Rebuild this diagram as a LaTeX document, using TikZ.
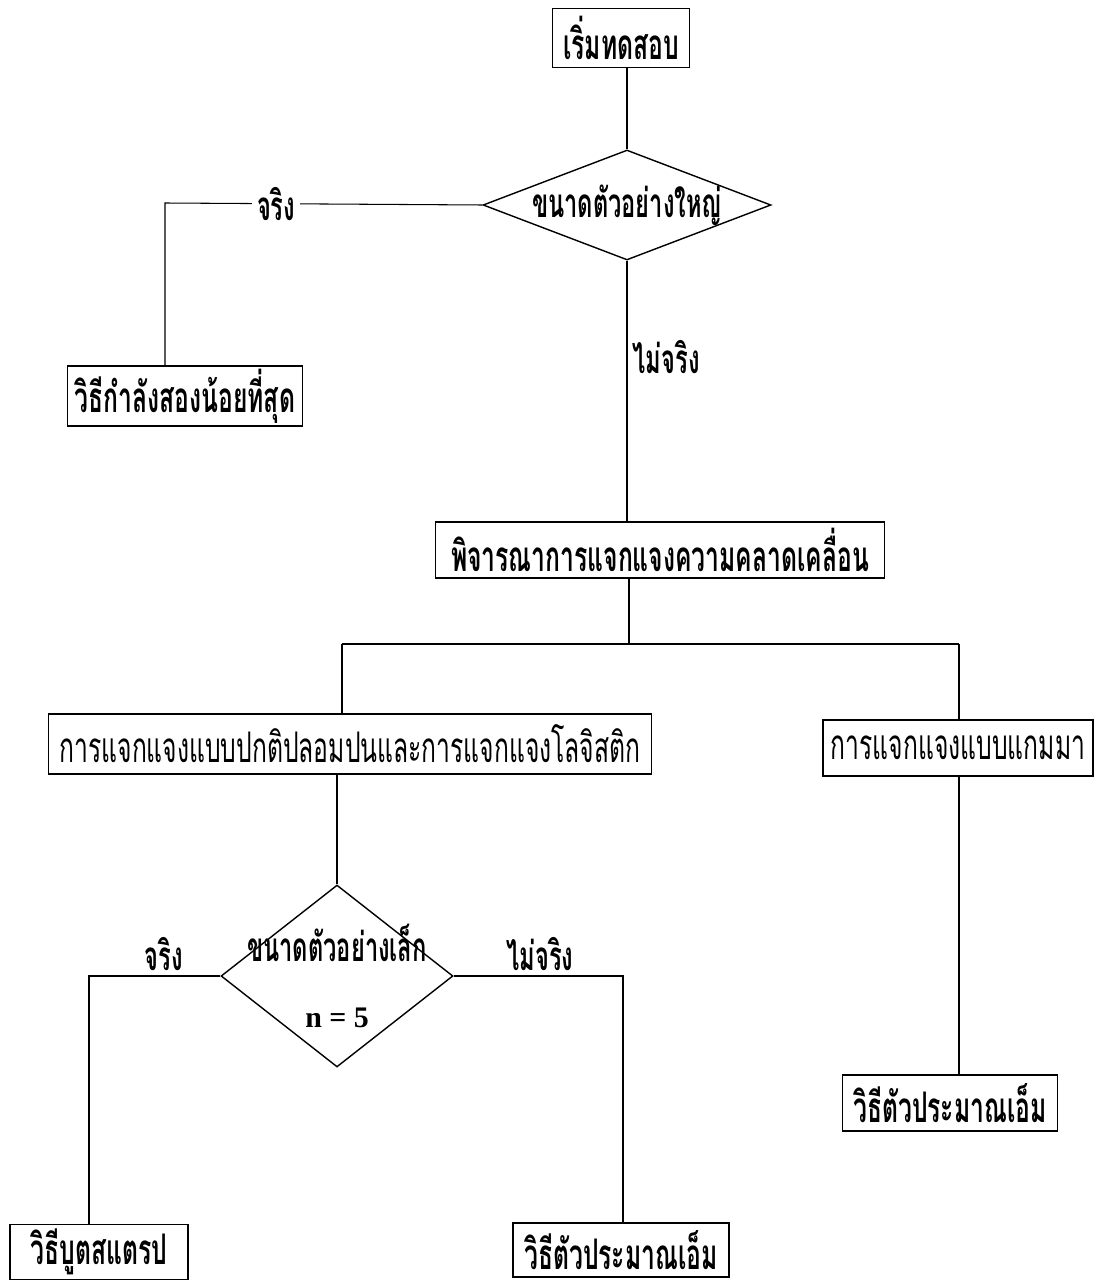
\documentclass[tikz,border=0pt]{standalone}
\usepackage{fontspec}
\newfontfamily\thaifont[Script=Thai,FakeStretch=0.585]{Loma}
\newfontfamily\numfont{Liberation Serif}
\usetikzlibrary{shapes.geometric,positioning}

\tikzset{
  box/.style={draw, line width=1pt, rectangle, minimum height=1.12cm, inner xsep=2pt, inner ysep=1pt,
    font=\thaifont\bfseries\fontsize{24}{27}\selectfont},
  lightbox/.style={box, font=\thaifont\fontsize{24}{27}\selectfont},
  decision/.style={draw, line width=0.8pt, diamond, inner sep=0pt},
  tag/.style={inner sep=3pt, font=\thaifont\bfseries\fontsize{23}{26}\selectfont},
  link/.style={line width=0.6pt},
  heavy/.style={line width=1.6pt},
}

\begin{document}
\begin{tikzpicture}[x=0.02cm, y=-0.02cm]
  \useasboundingbox (0,0) rectangle (1096,1287);

  % Start and first decision
  \node[box, minimum width=2.74cm, minimum height=1.18cm] (start) at (621,38) {เริ่มทดสอบ};
  \node[decision, minimum width=5.76cm, minimum height=2.2cm,
    label={[tag]center:ขนาดตัวอย่างใหญ่}] (big) at (627,205) {};
  \node[box, minimum width=4.7cm, minimum height=1.2cm] (lsq) at (185,396) {วิธีกำลังสองน้อยที่สุด};
  \coordinate (c1) at (165,203);

  % Error distribution
  \node[box, minimum width=8.98cm] (err) at (660,550) {พิจารณาการแจกแจงความคลาดเคลื่อน};
  \coordinate (split) at (629,644);
  \coordinate (lc) at (342,644);
  \coordinate (rc) at (959,644);
  \node[lightbox, minimum width=12.06cm, minimum height=1.2cm] (mix) at (350,744) {การแจกแจงแบบปกติปลอมปนและการแจกแจงโลจิสติก};
  \node[lightbox, minimum width=5.4cm] (gam) at (958,748) {การแจกแจงแบบแกมมา};

  % Second decision
  \node[decision, minimum width=4.64cm, minimum height=3.64cm,
    label={[tag, align=center]center:ขนาดตัวอย่างเล็ก\\[12pt]{\numfont\bfseries\fontsize{17}{20}\selectfont n = 5}}] (small) at (337,976) {};
  \coordinate (c2) at (89,976);
  \coordinate (c3) at (623,976);
  \node[box, minimum width=3.56cm, minimum height=1.1cm] (boot) at (99,1252) {วิธีบูตสแตรป};
  \node[box, minimum width=4.32cm, minimum height=1.08cm] (mest) at (621,1250) {วิธีตัวประมาณเอ็ม};
  \node[box, minimum width=4.3cm] (mest2) at (950,1103) {วิธีตัวประมาณเอ็ม};

  % Connectors
  \draw[link] (big.north) -- (big.north |- start.south);
  \draw[link] (big.west) -- node[tag, fill=white, pos=0.65] {จริง} (c1) -- (c1 |- lsq.north);
  \draw[link] (big.south) -- node[tag, right, pos=0.37] {ไม่จริง} (big.south |- err.north);
  \draw[link] (split |- err.south) -- (split);
  \draw[link] (lc) -- (rc);
  \draw[link] (lc) -- (lc |- mix.north);
  \draw[link] (rc) -- (rc |- gam.north);
  \draw[heavy] (small.north) -- (small.north |- mix.south);
  \draw[link] (small.west) -- node[tag, above, pos=0.43] {จริง} (c2) -- (c2 |- boot.north);
  \draw[link] (small.east) -- node[tag, above, pos=0.51] {ไม่จริง} (c3) -- (c3 |- mest.north);
  \draw[link] (rc |- gam.south) -- (rc |- mest2.north);
\end{tikzpicture}
\end{document}
